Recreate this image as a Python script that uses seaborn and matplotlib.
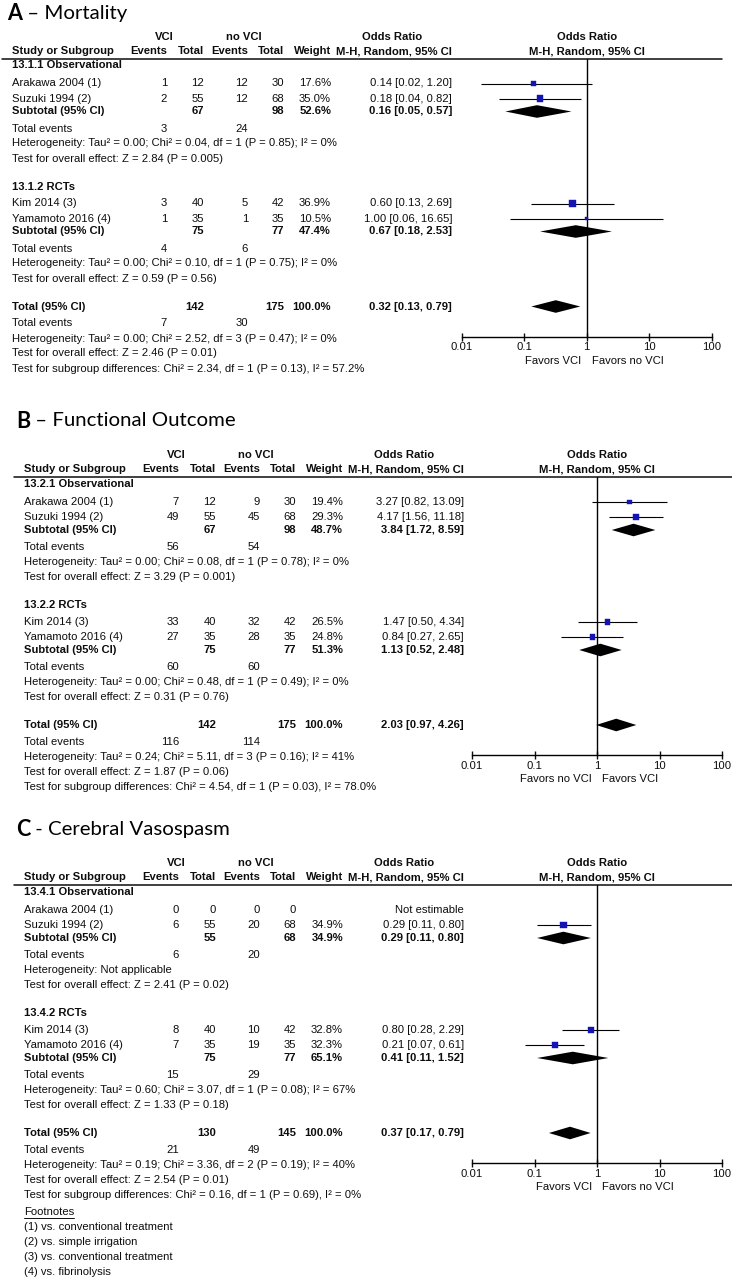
import numpy as np
import pandas as pd
import matplotlib
matplotlib.use("Agg")
import matplotlib.pyplot as plt
from matplotlib.ticker import NullLocator
import seaborn as sns

# ---------------- data ----------------
studies = ["Arakawa 2004 (1)", "Suzuki 1994 (2)", "Kim 2014 (3)", "Yamamoto 2016 (4)"]
footnotes = ["(1) vs. conventional treatment", "(2) vs. simple irrigation",
             "(3) vs. conventional treatment", "(4) vs. fibrinolysis"]

# A - mortality
mort_vci_ev = [1, 2, 3, 1]
mort_vci_n = [12, 55, 40, 35]
mort_ctl_ev = [12, 12, 5, 1]
mort_ctl_n = [30, 68, 42, 35]
mort_weight = [17.6, 35.0, 36.9, 10.5]
mort_or = [0.14, 0.18, 0.60, 1.00]
mort_lo = [0.02, 0.04, 0.13, 0.06]
mort_hi = [1.20, 0.82, 2.69, 16.65]
# subgroup 1, subgroup 2, overall
mort_pool_vci_ev = [3, 4, 7]
mort_pool_vci_n = [67, 75, 142]
mort_pool_ctl_ev = [24, 6, 30]
mort_pool_ctl_n = [98, 77, 175]
mort_pool_weight = [52.6, 47.4, 100.0]
mort_pool_or = [0.16, 0.67, 0.32]
mort_pool_lo = [0.05, 0.18, 0.13]
mort_pool_hi = [0.57, 2.53, 0.79]
mort_het = ["Heterogeneity: Tau² = 0.00; Chi² = 0.04, df = 1 (P = 0.85); I² = 0%",
            "Heterogeneity: Tau² = 0.00; Chi² = 0.10, df = 1 (P = 0.75); I² = 0%",
            "Heterogeneity: Tau² = 0.00; Chi² = 2.52, df = 3 (P = 0.47); I² = 0%"]
mort_z = ["Test for overall effect: Z = 2.84 (P = 0.005)",
          "Test for overall effect: Z = 0.59 (P = 0.56)",
          "Test for overall effect: Z = 2.46 (P = 0.01)"]
mort_subdiff = "Test for subgroup differences: Chi² = 2.34, df = 1 (P = 0.13), I² = 57.2%"

# B - functional outcome
func_vci_ev = [7, 49, 33, 27]
func_vci_n = [12, 55, 40, 35]
func_ctl_ev = [9, 45, 32, 28]
func_ctl_n = [30, 68, 42, 35]
func_weight = [19.4, 29.3, 26.5, 24.8]
func_or = [3.27, 4.17, 1.47, 0.84]
func_lo = [0.82, 1.56, 0.50, 0.27]
func_hi = [13.09, 11.18, 4.34, 2.65]
func_pool_vci_ev = [56, 60, 116]
func_pool_vci_n = [67, 75, 142]
func_pool_ctl_ev = [54, 60, 114]
func_pool_ctl_n = [98, 77, 175]
func_pool_weight = [48.7, 51.3, 100.0]
func_pool_or = [3.84, 1.13, 2.03]
func_pool_lo = [1.72, 0.52, 0.97]
func_pool_hi = [8.59, 2.48, 4.26]
func_het = ["Heterogeneity: Tau² = 0.00; Chi² = 0.08, df = 1 (P = 0.78); I² = 0%",
            "Heterogeneity: Tau² = 0.00; Chi² = 0.48, df = 1 (P = 0.49); I² = 0%",
            "Heterogeneity: Tau² = 0.24; Chi² = 5.11, df = 3 (P = 0.16); I² = 41%"]
func_z = ["Test for overall effect: Z = 3.29 (P = 0.001)",
          "Test for overall effect: Z = 0.31 (P = 0.76)",
          "Test for overall effect: Z = 1.87 (P = 0.06)"]
func_subdiff = "Test for subgroup differences: Chi² = 4.54, df = 1 (P = 0.03), I² = 78.0%"

# C - cerebral vasospasm
vaso_vci_ev = [0, 6, 8, 7]
vaso_vci_n = [0, 55, 40, 35]
vaso_ctl_ev = [0, 20, 10, 19]
vaso_ctl_n = [0, 68, 42, 35]
vaso_weight = [np.nan, 34.9, 32.8, 32.3]
vaso_or = [np.nan, 0.29, 0.80, 0.21]
vaso_lo = [np.nan, 0.11, 0.28, 0.07]
vaso_hi = [np.nan, 0.80, 2.29, 0.61]
vaso_pool_vci_ev = [6, 15, 21]
vaso_pool_vci_n = [55, 75, 130]
vaso_pool_ctl_ev = [20, 29, 49]
vaso_pool_ctl_n = [68, 77, 145]
vaso_pool_weight = [34.9, 65.1, 100.0]
vaso_pool_or = [0.29, 0.41, 0.37]
vaso_pool_lo = [0.11, 0.11, 0.17]
vaso_pool_hi = [0.80, 1.52, 0.79]
vaso_het = ["Heterogeneity: Not applicable",
            "Heterogeneity: Tau² = 0.60; Chi² = 3.07, df = 1 (P = 0.08); I² = 67%",
            "Heterogeneity: Tau² = 0.19; Chi² = 3.36, df = 2 (P = 0.19); I² = 40%"]
vaso_z = ["Test for overall effect: Z = 2.41 (P = 0.02)",
          "Test for overall effect: Z = 1.33 (P = 0.18)",
          "Test for overall effect: Z = 2.54 (P = 0.01)"]
vaso_subdiff = "Test for subgroup differences: Chi² = 0.16, df = 1 (P = 0.69), I² = 0%"

panels = [
    dict(letter="A", name=" – Mortality", sections=["13.1.1 Observational", "13.1.2 RCTs"],
         vci_ev=mort_vci_ev, vci_n=mort_vci_n, ctl_ev=mort_ctl_ev, ctl_n=mort_ctl_n,
         weight=mort_weight, orr=mort_or, lo=mort_lo, hi=mort_hi,
         p_vci_ev=mort_pool_vci_ev, p_vci_n=mort_pool_vci_n, p_ctl_ev=mort_pool_ctl_ev,
         p_ctl_n=mort_pool_ctl_n, p_weight=mort_pool_weight, p_or=mort_pool_or,
         p_lo=mort_pool_lo, p_hi=mort_pool_hi, het=mort_het, z=mort_z, subdiff=mort_subdiff,
         favors=("Favors VCI", "Favors no VCI"),
         line_y=58.5, dx=0, x0=461.7, title_xy=(7, 13)),
    dict(letter="B", name=" – Functional Outcome", sections=["13.2.1 Observational", "13.2.2 RCTs"],
         vci_ev=func_vci_ev, vci_n=func_vci_n, ctl_ev=func_ctl_ev, ctl_n=func_ctl_n,
         weight=func_weight, orr=func_or, lo=func_lo, hi=func_hi,
         p_vci_ev=func_pool_vci_ev, p_vci_n=func_pool_vci_n, p_ctl_ev=func_pool_ctl_ev,
         p_ctl_n=func_pool_ctl_n, p_weight=func_pool_weight, p_or=func_pool_or,
         p_lo=func_pool_lo, p_hi=func_pool_hi, het=func_het, z=func_z, subdiff=func_subdiff,
         favors=("Favors no VCI", "Favors VCI"),
         line_y=477, dx=12, x0=472, title_xy=(16, 421)),
    dict(letter="C", name=" - Cerebral Vasospasm", sections=["13.4.1 Observational", "13.4.2 RCTs"],
         vci_ev=vaso_vci_ev, vci_n=vaso_vci_n, ctl_ev=vaso_ctl_ev, ctl_n=vaso_ctl_n,
         weight=vaso_weight, orr=vaso_or, lo=vaso_lo, hi=vaso_hi,
         p_vci_ev=vaso_pool_vci_ev, p_vci_n=vaso_pool_vci_n, p_ctl_ev=vaso_pool_ctl_ev,
         p_ctl_n=vaso_pool_ctl_n, p_weight=vaso_pool_weight, p_or=vaso_pool_or,
         p_lo=vaso_pool_lo, p_hi=vaso_pool_hi, het=vaso_het, z=vaso_z, subdiff=vaso_subdiff,
         favors=("Favors VCI", "Favors no VCI"),
         line_y=885, dx=12, x0=472, title_xy=(16, 829), notes=footnotes),
]

# row offsets (pixels below the header rule)
STUDY_ROWS = [25, 40, 145, 160]
SECTION_ROWS = [7, 128]
POOL_ROWS = [53, 173, 248]
EVENT_ROWS = [70, 190, 265]
HET_ROWS = [85, 205, 280]
Z_ROWS = [100, 220, 295]
SUBDIFF_ROW = 310
NOTE_ROW = 327
AXIS_OFF = 278

# ---------------- drawing ----------------
sns.set_theme(style="white")
plt.rcParams["font.family"] = ["Liberation Sans", "DejaVu Sans"]

W, H = 732, 1280
fig = plt.figure(figsize=(W / 100, H / 100), dpi=100)
bg = fig.add_axes([0, 0, 1, 1])
bg.set_xlim(0, W)
bg.set_ylim(H, 0)
bg.axis("off")
renderer = fig.canvas.get_renderer()

INK = "#0d0d0d"
TXT = dict(fontsize=8.1, color=INK, va="center")
BOLD = dict(TXT, fontweight="bold")
BLUE = "#1414b4"


def fmt_ci(o, l, h):
    return f"{o:.2f} [{l:.2f}, {h:.2f}]"


def draw_panel(p):
    top, dx, x0 = p["line_y"], p["dx"], p["x0"]
    ay = top + AXIS_OFF
    x_one = x0 + 125

    # title
    tx, ty = p["title_xy"]
    t = bg.text(tx, ty, p["letter"], fontsize=15.5, fontweight="bold", family="Lato",
                color="black", va="center")
    bb = t.get_window_extent(renderer)
    bg.text(bb.x1, ty, p["name"], fontsize=14.7, family="Lato", color="black", va="center")

    # headers
    h1, h2 = top - 22, top - 7.5
    bg.text(dx + 164, h1, "VCI", ha="center", **BOLD)
    bg.text(dx + 244, h1, "no VCI", ha="center", **BOLD)
    bg.text(dx + 392, h1, "Odds Ratio", ha="center", **BOLD)
    bg.text(x_one, h1, "Odds Ratio", ha="center", **BOLD)
    bg.text(dx + 12, h2, "Study or Subgroup", ha="left", **BOLD)
    for xr, lab in [(167, "Events"), (204, "Total"), (248, "Events"), (284, "Total"),
                    (331, "Weight"), (452, "M-H, Random, 95% CI")]:
        bg.text(dx + xr, h2, lab, ha="right", **BOLD)
    bg.text(x_one, h2, "M-H, Random, 95% CI", ha="center", **BOLD)
    bg.plot([dx + 2, dx + 722], [top, top], color=INK, lw=1.1)

    # study rows
    for i, name in enumerate(studies):
        yy = top + STUDY_ROWS[i]
        bg.text(dx + 12, yy, name, ha="left", **TXT)
        for xr, v in [(167, p["vci_ev"][i]), (204, p["vci_n"][i]),
                      (248, p["ctl_ev"][i]), (284, p["ctl_n"][i])]:
            bg.text(dx + xr, yy, str(v), ha="right", **TXT)
        if np.isnan(p["orr"][i]):
            bg.text(dx + 452, yy, "Not estimable", ha="right", **TXT)
        else:
            bg.text(dx + 331, yy, f"{p['weight'][i]:.1f}%", ha="right", **TXT)
            bg.text(dx + 452, yy, fmt_ci(p["orr"][i], p["lo"][i], p["hi"][i]), ha="right", **TXT)

    # section headers, pooled rows, summary lines
    for s, lab in enumerate(p["sections"]):
        bg.text(dx + 12, top + SECTION_ROWS[s], lab, ha="left", **BOLD)
    for k in range(3):
        yy = top + POOL_ROWS[k]
        bg.text(dx + 12, yy, "Subtotal (95% CI)" if k < 2 else "Total (95% CI)", ha="left", **BOLD)
        bg.text(dx + 204, yy, str(p["p_vci_n"][k]), ha="right", **BOLD)
        bg.text(dx + 284, yy, str(p["p_ctl_n"][k]), ha="right", **BOLD)
        bg.text(dx + 331, yy, f"{p['p_weight'][k]:.1f}%", ha="right", **BOLD)
        bg.text(dx + 452, yy, fmt_ci(p["p_or"][k], p["p_lo"][k], p["p_hi"][k]), ha="right", **BOLD)
        ye = top + EVENT_ROWS[k]
        bg.text(dx + 12, ye, "Total events", ha="left", **TXT)
        bg.text(dx + 167, ye, str(p["p_vci_ev"][k]), ha="right", **TXT)
        bg.text(dx + 248, ye, str(p["p_ctl_ev"][k]), ha="right", **TXT)
        bg.text(dx + 12, top + HET_ROWS[k], p["het"][k], ha="left", **TXT)
        bg.text(dx + 12, top + Z_ROWS[k], p["z"][k], ha="left", **TXT)
    bg.text(dx + 12, top + SUBDIFF_ROW, p["subdiff"], ha="left", **TXT)

    if "notes" in p:
        yn = top + NOTE_ROW
        t = bg.text(dx + 12, yn, "Footnotes", ha="left", **TXT)
        fb = t.get_window_extent(renderer)
        bg.plot([fb.x0, fb.x1], [yn + 6, yn + 6], color=INK, lw=0.7)
        for j, note in enumerate(p["notes"]):
            bg.text(dx + 12, yn + 15 * (j + 1), note, ha="left", **TXT)

    # forest plot
    ax = fig.add_axes([x0 / W, 1 - ay / H, 250 / W, (ay - top) / H])
    ax.patch.set_visible(False)
    df = pd.DataFrame({"orr": p["orr"], "lo": p["lo"], "hi": p["hi"], "w": p["weight"],
                       "y": [top + r for r in STUDY_ROWS]}).dropna()
    ax.hlines(df["y"], df["lo"], df["hi"], color="black", lw=0.8, zorder=2)
    sns.scatterplot(data=df, x="orr", y="y", size="w", sizes=(0, 62.7), size_norm=(0, 100),
                    marker="s", color=BLUE, edgecolor=BLUE, linewidth=0.3,
                    legend=False, ax=ax, zorder=3)
    for k in range(3):
        yy = top + POOL_ROWS[k]
        o, l, h = p["p_or"][k], p["p_lo"][k], p["p_hi"][k]
        ax.fill([l, o, h, o], [yy, yy - 6.3, yy, yy + 6.3], color="black", lw=0, zorder=3)
    ax.axvline(1, color="black", lw=1.0, zorder=1)
    ax.set_xscale("log")
    ax.set_xlim(0.01, 100)
    ax.set_ylim(ay, top)
    ax.set_xticks([0.01, 0.1, 1, 10, 100])
    ax.set_xticklabels(["0.01", "0.1", "1", "10", "100"])
    ax.xaxis.set_minor_locator(NullLocator())
    ax.set_yticks([])
    ax.set_xlabel("")
    ax.set_ylabel("")
    for side in ["top", "left", "right"]:
        ax.spines[side].set_visible(False)
    ax.spines["bottom"].set_color("black")
    ax.spines["bottom"].set_linewidth(1.0)
    ax.tick_params(axis="x", direction="inout", length=6, width=1, pad=1,
                   labelsize=8.1, colors=INK, bottom=True)

    bg.text(x_one - 5, ay + 24, p["favors"][0], ha="right", **TXT)
    bg.text(x_one + 5, ay + 24, p["favors"][1], ha="left", **TXT)


for p in panels:
    draw_panel(p)

fig.savefig("out.png", dpi=100, facecolor="white")
